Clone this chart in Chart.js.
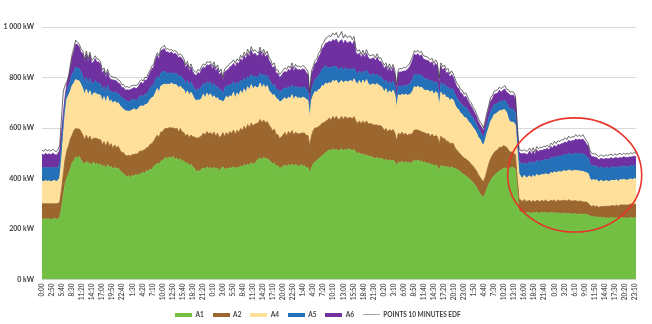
<!DOCTYPE html>
<html>
<head>
<meta charset="utf-8">
<script src="https://cdn.jsdelivr.net/npm/chart.js@4.4.1/dist/chart.umd.min.js"></script>
<style>
  html, body { margin: 0; padding: 0; background: #fff; }
  #wrap { width: 652px; height: 324px; }
</style>
</head>
<body>
<div id="wrap"><canvas id="loadChart" width="652" height="324"></canvas></div>
<script>
// one week of load, one value every 30 minutes (kW)
const STEP_MIN = 30;

const a1 = [
  240,238,242,239,241,237,240,243,238,241,246,282,330,378,402,418,438,462,470,486,480,488,472,464,
  455,468,458,462,450,466,455,460,452,458,446,452,440,455,444,448,436,445,438,442,430,425,418,412,
  405,412,400,414,408,418,410,420,416,425,420,432,428,438,434,448,452,460,456,468,472,478,484,476,
  486,480,488,474,482,470,478,468,470,460,462,452,456,445,440,426,432,428,438,442,436,446,440,444,
  438,444,436,442,430,440,446,435,442,437,444,440,448,438,445,442,450,446,455,448,458,452,462,456,
  460,468,476,482,474,484,478,480,472,466,458,462,448,452,440,444,448,454,446,456,450,458,448,455,
  452,446,455,448,452,440,445,420,442,458,465,470,478,484,490,496,502,508,514,510,518,512,516,508,
  514,518,510,516,512,518,514,510,515,504,498,502,494,498,490,494,486,490,484,482,478,484,476,480,
  478,472,476,468,474,470,472,466,450,466,462,468,460,466,462,464,458,466,472,468,474,466,470,462,
  466,458,462,454,458,450,454,448,430,452,446,450,444,448,440,446,442,440,436,432,426,420,415,410,
  405,398,392,384,375,365,352,340,330,326,340,360,378,392,402,410,418,424,430,434,438,442,440,444,
  440,446,442,438,350,272,266,263,267,262,266,264,261,265,263,267,262,264,266,263,265,262,264,266,
  263,265,261,264,262,260,263,261,259,262,260,258,261,259,257,260,258,256,259,257,255,252,248,250,
  246,249,245,247,244,246,243,245,242,246,244,243,245,242,244,246,243,245,242,244,246,243,245,244
];
const a2 = [
  60,62,58,61,59,63,60,57,62,60,62,72,85,96,108,112,118,110,120,112,116,108,114,108,
  98,104,96,106,100,94,104,98,102,96,88,94,86,92,84,90,82,88,84,86,82,78,84,80,
  84,80,88,82,86,80,86,88,92,86,94,90,96,98,104,100,108,112,106,116,112,118,114,122,
  116,120,112,122,118,114,120,116,112,108,114,110,116,120,124,134,128,136,130,138,134,140,136,138,
  134,140,130,138,132,128,136,130,140,134,142,138,144,136,146,140,148,144,152,146,156,150,158,152,
  155,150,144,152,146,148,142,146,140,136,130,134,126,122,118,120,124,128,122,130,126,132,124,128,
  126,130,124,132,128,130,126,110,128,132,136,130,128,126,130,124,126,122,126,120,128,124,130,126,
  122,128,124,130,126,122,128,126,130,124,120,126,122,130,128,134,130,128,132,130,134,128,132,130,
  124,118,122,116,120,118,122,114,100,114,110,116,112,114,108,112,116,114,120,124,118,122,116,120,
  114,118,116,112,118,114,116,118,108,116,112,108,104,100,98,94,96,80,76,72,70,68,66,68,
  66,68,64,66,65,66,64,66,64,62,66,72,80,86,90,93,92,90,94,88,92,86,84,70,
  64,60,58,56,52,48,48,46,50,47,45,49,46,48,44,47,49,45,48,46,50,47,45,48,
  48,50,47,51,49,52,50,53,51,54,52,53,50,54,52,50,53,51,48,50,47,42,40,44,
  41,43,40,42,45,43,47,45,48,46,49,47,50,48,51,49,52,50,53,51,54,52,53,54
];
const a4 = [
  90,88,92,89,91,87,90,93,88,91,95,118,150,180,205,200,190,196,188,194,192,190,186,184,
  178,182,176,180,174,178,180,176,178,176,172,178,174,180,176,172,178,174,176,172,176,178,172,176,
  178,174,180,176,182,172,178,176,180,174,178,172,176,178,182,176,180,184,178,182,186,178,174,176,
  170,178,172,176,170,174,168,172,170,166,172,168,170,164,150,148,152,146,150,154,148,152,150,154,
  148,144,150,140,146,142,120,146,144,148,142,146,150,144,148,146,150,144,148,146,150,148,152,146,
  150,142,138,144,136,140,138,142,136,138,142,136,144,140,146,142,142,138,144,136,140,142,138,144,
  140,144,138,142,140,144,138,110,140,140,144,142,146,144,148,146,150,144,140,146,142,148,144,140,
  146,142,144,140,146,142,148,144,150,152,156,160,156,162,158,164,160,150,158,162,158,164,160,156,
  156,152,158,150,154,150,156,152,130,152,156,150,158,154,160,156,162,166,172,168,174,170,176,172,
  168,174,170,176,172,168,174,172,150,174,170,176,172,174,170,176,172,170,166,168,162,166,160,164,
  160,156,158,152,154,150,148,150,146,144,146,148,144,148,146,150,146,148,144,146,142,144,138,124,
  120,118,122,118,110,100,94,92,96,93,95,98,96,100,98,102,100,104,102,106,104,108,106,110,
  110,112,114,112,116,114,118,116,119,117,120,118,121,119,122,120,118,121,119,116,118,106,104,102,
  106,103,100,104,101,99,102,100,98,101,99,102,100,98,101,99,102,100,98,101,99,100,102,100
];
const a5 = [
  53,55,51,54,52,56,53,50,54,52,55,60,50,40,30,35,40,45,46,50,48,50,48,50,
  46,48,44,50,46,42,48,44,46,44,40,42,38,44,40,36,42,38,40,36,40,38,42,40,
  40,36,42,38,40,36,40,40,42,38,42,40,44,44,48,46,50,48,52,50,54,50,46,42,
  46,40,44,42,46,40,44,42,40,38,42,36,40,38,40,40,44,42,46,44,48,46,50,46,
  44,48,42,46,40,44,30,46,42,46,44,48,42,46,44,46,42,48,44,46,40,44,42,46,
  40,42,44,40,46,42,44,40,44,42,38,40,36,40,38,40,42,38,44,40,42,38,44,40,
  42,38,44,40,42,40,38,30,40,44,48,52,56,62,66,72,70,64,60,62,56,58,54,56,
  52,54,50,52,48,50,46,48,44,40,42,38,40,36,40,38,42,40,38,40,36,38,34,38,
  36,38,34,38,36,34,36,32,30,34,36,32,36,34,38,40,44,46,48,50,46,50,48,46,
  44,46,42,44,40,42,40,40,34,38,40,42,40,42,40,42,40,42,40,38,40,38,40,42,
  40,38,36,38,34,36,34,32,34,32,34,36,38,40,38,40,38,36,38,34,36,38,38,48,
  50,52,50,48,48,52,52,55,51,54,52,56,53,55,52,56,54,57,55,58,56,59,57,60,
  58,61,60,62,61,64,62,65,63,66,64,67,65,68,66,69,67,70,68,64,62,60,58,56,
  55,54,53,55,52,54,51,53,52,54,51,53,52,54,51,53,52,54,51,53,52,54,53,52
];
const a6 = [
  54,50,56,52,55,51,57,53,50,55,55,50,40,30,30,35,50,65,80,90,95,85,80,88,
  82,90,84,92,86,80,88,82,84,76,70,62,58,50,54,46,52,44,48,42,46,40,44,42,
  44,48,42,46,44,50,46,48,52,50,56,54,60,62,66,72,78,84,80,88,86,90,82,86,
  78,84,76,82,74,80,72,76,70,66,62,58,60,56,58,60,64,62,68,64,70,66,72,70,
  68,72,66,70,62,66,56,64,60,66,70,74,72,78,76,80,84,82,88,86,92,88,94,90,
  92,86,82,88,80,84,78,82,76,74,70,72,64,62,58,60,62,66,64,70,68,74,70,72,
  70,74,68,72,70,66,64,50,62,58,62,66,72,76,80,84,88,100,104,102,106,104,108,106,
  110,108,106,110,104,108,106,102,106,80,74,70,66,68,62,66,60,64,62,64,60,66,62,60,
  58,54,56,52,56,50,54,50,40,54,58,56,60,58,64,66,72,76,80,78,82,76,80,74,
  78,72,76,70,74,68,72,66,56,64,60,62,56,58,52,54,50,48,44,46,42,44,40,42,
  40,38,36,34,32,30,28,26,28,26,30,34,38,40,40,40,42,40,44,40,42,44,42,52,
  56,54,58,54,38,34,38,42,36,40,38,42,39,41,37,42,40,43,39,42,40,44,41,43,
  42,44,43,46,45,48,47,50,49,52,51,54,53,56,55,57,56,58,55,50,46,40,36,34,
  36,33,35,32,36,34,37,35,38,36,34,37,35,38,36,34,37,35,38,36,34,37,36,35
];
// 10-minute meter reading from the grid operator
const edf = [
  512,508,516,510,514,508,516,511,506,515,530,640,745,770,782,806,850,892,918,948,940,932,914,906,
  870,905,872,900,868,874,886,874,872,862,830,838,810,832,812,804,802,800,798,790,786,772,772,762,
  764,760,766,768,770,768,772,784,792,786,800,800,816,830,846,852,880,898,886,916,920,928,912,914,
  908,912,904,906,902,888,894,886,874,850,864,836,854,834,824,820,832,826,844,854,848,862,860,864,
  844,862,836,850,822,834,800,834,840,846,856,860,870,856,874,866,888,878,900,886,912,894,922,904,
  910,902,896,920,894,912,892,904,880,870,850,858,830,830,812,820,830,838,832,846,838,858,836,852,
  842,846,840,848,844,834,824,740,826,846,868,874,896,906,930,940,956,960,966,962,976,968,978,958,
  968,982,956,970,958,962,964,950,962,916,904,910,892,908,890,910,892,886,888,890,878,894,876,878,
  864,848,858,836,854,834,852,828,770,832,836,834,840,838,846,852,866,882,906,900,908,898,904,888,
  884,882,878,870,876,856,870,858,798,858,842,850,830,836,814,826,814,794,776,770,754,750,734,740,
  724,708,700,684,674,658,640,624,616,600,630,664,690,722,728,746,748,752,762,756,762,768,754,752,
  742,744,742,726,620,518,512,510,514,508,510,520,508,522,506,526,518,524,522,528,526,532,524,540,
  534,548,538,550,546,554,552,562,554,568,560,566,564,574,566,572,566,574,562,550,540,512,500,498,
  498,494,486,494,490,488,494,490,494,496,490,498,494,496,500,494,500,496,500,496,502,498,504,498
];

// axis labels, one every 2 h 50 min
const tickLabels = [
  "0:00","2:50","5:40","8:30","11:20","14:10","17:00","19:50","22:40","1:30","4:20","7:10",
  "10:00","12:50","15:40","18:30","21:20","0:10","3:00","5:50","8:40","11:30","14:20","17:10",
  "20:00","22:50","1:40","4:30","7:20","10:10","13:00","15:50","18:40","21:30","0:20","3:10",
  "6:00","8:50","11:40","14:30","17:20","20:10","23:00","1:50","4:40","7:30","10:20","13:10",
  "16:00","18:50","21:40","0:30","3:20","6:10","9:00","11:50","14:40","17:30","20:20","23:10"
];
const TICK_STEP_MIN = 170;

const seriesNames = ["A1", "A2", "A4", "A5", "A6"];
const seriesColors = ["#72BF44", "#9C672F", "#FFE09A", "#2471B9", "#7031A0"];
const edfName = "POINTS 10 MINUTES EDF";

// the circled low-load period at the end of the week
const highlight = { centerMin: 9013, centerKW: 414, radiusMin: 1134, radiusKW: 226 };

const minutes = a1.map((_, i) => i * STEP_MIN);
const FONT = "Lato, 'Open Sans', 'Liberation Sans', sans-serif";

function swatch(color, h) {
  const c = document.createElement("canvas");
  c.width = 17;
  c.height = h;
  const g = c.getContext("2d");
  g.fillStyle = color;
  g.fillRect(0, 0, 17, h);
  return c;
}

function withSpaces(v) {
  return String(v).replace(/\B(?=(\d{3})+(?!\d))/g, " ");
}

const ellipsePlugin = {
  id: "ellipseMark",
  afterDraw(chart) {
    const { ctx, scales: { x, y } } = chart;
    const cx = x.getPixelForValue(highlight.centerMin);
    const cy = y.getPixelForValue(highlight.centerKW);
    const rx = x.getPixelForValue(highlight.centerMin + highlight.radiusMin) - cx;
    const ry = cy - y.getPixelForValue(highlight.centerKW + highlight.radiusKW);
    ctx.save();
    ctx.strokeStyle = "#E8342A";
    ctx.lineWidth = 1.6;
    ctx.beginPath();
    ctx.ellipse(cx, cy, rx, ry, 0, 0, Math.PI * 2);
    ctx.stroke();
    ctx.restore();
  }
};

const layers = [a1, a2, a4, a5, a6];
const datasets = layers.map((vals, k) => ({
  label: seriesNames[k],
  data: vals.map((v, i) => ({ x: minutes[i], y: v })),
  backgroundColor: seriesColors[k],
  borderColor: seriesColors[k],
  borderWidth: 0.8,
  fill: k === 0 ? "origin" : "-1",
  pointRadius: 0,
  pointStyle: swatch(seriesColors[k], 4),
  tension: 0
}));
datasets.push({
  label: edfName,
  data: edf.map((v, i) => ({ x: minutes[i], y: v })),
  stack: "edf",
  order: -1,
  fill: false,
  borderColor: "#2e2e2e",
  borderWidth: 0.7,
  backgroundColor: "#a6a6a6",
  pointRadius: 0,
  pointStyle: swatch("#a6a6a6", 1),
  tension: 0
});

new Chart(document.getElementById("loadChart"), {
  type: "line",
  data: { datasets },
  plugins: [ellipsePlugin],
  options: {
    responsive: false,
    animation: false,
    layout: { padding: { top: 27, right: 16, left: 0, bottom: -4 } },
    scales: {
      x: {
        type: "linear",
        min: 0,
        max: minutes[minutes.length - 1],
        grid: { display: false, drawTicks: false },
        border: { display: false },
        afterFit: (s) => { s.height = 23; },
        afterBuildTicks: (s) => {
          s.ticks = tickLabels.map((_, k) => ({ value: k * TICK_STEP_MIN }));
        },
        ticks: {
          autoSkip: false,
          minRotation: 90,
          maxRotation: 90,
          padding: 4,
          color: "#595959",
          font: { family: FONT, size: 6.5, weight: "bold" },
          callback: (v, i) => tickLabels[i]
        }
      },
      y: {
        stacked: true,
        min: 0,
        max: 1000,
        grid: { color: "#D9D9D9", drawTicks: false },
        border: { display: false },
        afterFit: (s) => { s.width = 42; },
        ticks: {
          stepSize: 200,
          padding: 8,
          color: "#404040",
          font: { family: FONT, size: 7, weight: "bold" },
          callback: (v) => withSpaces(v) + " kW"
        }
      }
    },
    plugins: {
      tooltip: { enabled: false },
      legend: {
        position: "bottom",
        labels: {
          usePointStyle: true,
          pointStyleWidth: 17,
          padding: 9,
          color: "#404040",
          font: { family: FONT, size: 6.5, weight: "bold" },
          sort: (a, b) => a.datasetIndex - b.datasetIndex
        }
      }
    }
  }
});
</script>
</body>
</html>
